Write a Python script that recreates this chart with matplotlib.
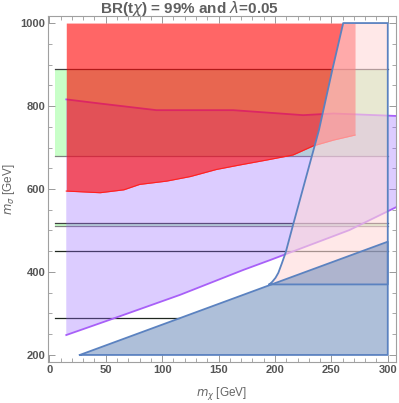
import numpy as np
import matplotlib
matplotlib.use("Agg")
import matplotlib.pyplot as plt
from matplotlib.ticker import MultipleLocator

plt.rcParams['font.family'] = ['Liberation Sans', 'DejaVu Sans']

# horizontal bands / lines (m_sigma values), x from 5 to 300
band_lo = [680, 511]
band_hi = [890, 517]
band_x = [5, 300]
line_y = [450, 290]
line_x_end = [300, 115]

# red excluded region: lower edge, top at 1000
mx_red = [15, 45, 66, 80, 104, 125, 148, 169, 193, 216, 234, 252, 271]
ms_red_low = [595, 591, 598, 611, 619, 630, 647, 658, 670, 682, 704, 718, 730]
red_top = 1000

# lavender region
mx_lav_up = [15, 45, 95, 163, 225, 252, 308]
ms_lav_up = [816, 806, 790, 790, 778, 782, 776]
mx_lav_low = [15, 57, 116, 172, 196, 266, 308]
ms_lav_low = [248, 288, 345, 405, 429, 501, 557]

# pink region left edge
mx_pink = [195, 197.5, 200.5, 203, 206, 209.5, 216, 239, 251, 260.5]
ms_pink = [370, 376, 386, 398, 420, 447, 513, 742, 889, 1000]
pink_bottom = 370
x_max = 300

# kinematic triangle m_sigma < m_chi + m_t
m_top = 173
ms_min = 200

blue = '#5b82c0'

fig = plt.figure(figsize=(3.99, 4.03), dpi=100)
ax = fig.add_axes([48/399, 1-362/403, 348/399, 346/403])

# green bands
for lo, hi in zip(band_lo, band_hi):
    ax.fill_between(band_x, lo, hi, color='#c8ffc8', lw=0, zorder=1)
    ax.plot(band_x, [hi, hi], color='#404040', lw=0.9, zorder=2)
    ax.plot(band_x, [lo, lo], color='#808080', lw=0.9, zorder=2)
for y, xe in zip(line_y, line_x_end):
    ax.plot([band_x[0], xe], [y, y], color='#202820', lw=0.9, zorder=2)

# lavender
lx = mx_lav_low + mx_lav_up[::-1]
ly = ms_lav_low + ms_lav_up[::-1]
ax.fill(lx, ly, color=(150/255, 100/255, 1.0), alpha=0.33, lw=0, zorder=3)
ax.plot(mx_lav_low, ms_lav_low, color='#a860f8', lw=1.3, zorder=3)
ax.plot(mx_lav_up, ms_lav_up, color='#a860f8', lw=1.3, zorder=3)

# red
ax.fill_between(mx_red, ms_red_low, red_top, color='red', alpha=0.6, lw=0, zorder=4)
ax.plot(mx_red, ms_red_low, color='#ff2020', lw=0.8, zorder=4)

# pink
px = mx_pink + [x_max, x_max]
py = ms_pink + [red_top, pink_bottom]
ax.fill(px, py, facecolor=(1.0, 217/255, 217/255), alpha=0.6, lw=0, zorder=5)
ax.plot(px + [mx_pink[0]], py + [ms_pink[0]], color=blue, lw=1.3, zorder=7)

# blue triangle
tx = [ms_min - m_top, x_max, x_max]
ty = [ms_min, ms_min, x_max + m_top]
ax.fill(tx, ty, facecolor=(94/255, 129/255, 181/255), alpha=0.5, lw=0, zorder=6)
ax.plot(tx + [tx[0]], ty + [ty[0]], color=blue, lw=1.3, zorder=7)

ax.set_xlim(-1.2, 307.3)
ax.set_ylim(183, 1017)

ax.xaxis.set_major_locator(MultipleLocator(50))
ax.xaxis.set_minor_locator(MultipleLocator(10))
ax.yaxis.set_major_locator(MultipleLocator(200))
ax.yaxis.set_minor_locator(MultipleLocator(50))
ax.tick_params(which='both', direction='in', top=True, right=True,
               color='#999999', labelcolor='#555555', labelsize=8, pad=2)
ax.tick_params(which='major', length=5, width=0.7)
ax.tick_params(which='minor', length=3, width=0.6)
for lab in ax.get_xticklabels() + ax.get_yticklabels():
    lab.set_fontweight('bold')
for s in ax.spines.values():
    s.set_color('#a0a0a0')
    s.set_linewidth(0.8)

ax.set_xlabel(r'$m_\chi$ [GeV]', color='#666666', fontsize=8.5)
ax.xaxis.set_label_coords(0.5, -(393 - 362) / 346)
ax.xaxis.label.set_va('center')
ax.set_ylabel(r'$m_\sigma$ [GeV]', color='#666666', fontsize=8.5)
ax.yaxis.set_label_coords(-(48 - 9) / 348, 0.5)
ax.yaxis.label.set_va('center')
fig.text(190/399, 1-9/403, r'BR(t$\chi$) = 99% and $\lambda$=0.05', ha='center', va='center',
         fontsize=11, fontweight='bold', color='#606060')

fig.savefig('out.png', dpi=100)
